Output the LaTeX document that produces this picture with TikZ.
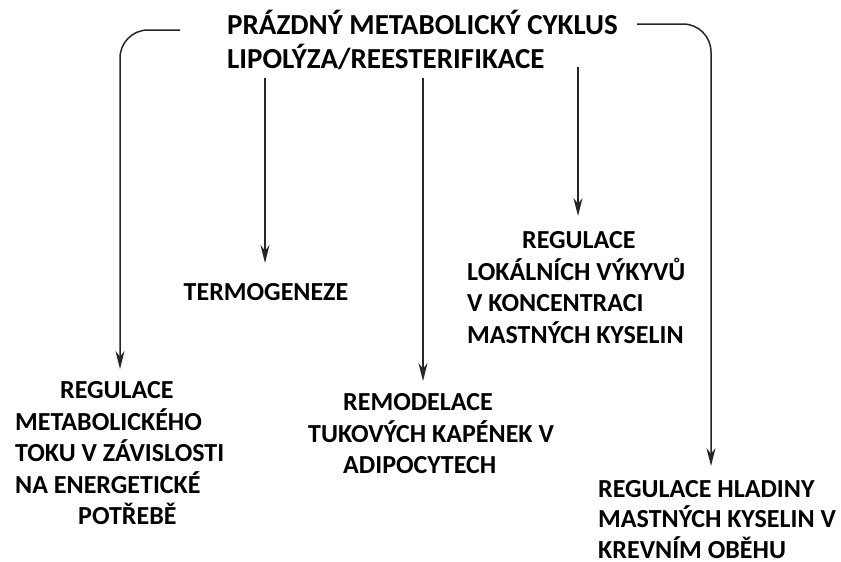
\documentclass[tikz,border=0pt]{standalone}
\usepackage{fontspec}
\setmainfont{Carlito}
\usetikzlibrary{arrows.meta}
\tikzset{
  lbl/.style={font=\bfseries\fontsize{26}{31.5}\selectfont, inner sep=0pt, text=black},
  ttl/.style={font=\bfseries\fontsize{29}{35}\selectfont, inner sep=0pt, text=black},
  conn/.style={draw=black!85, line width=1.5pt, -{Stealth[length=18pt,width=9pt]}},
}
\begin{document}
\begin{tikzpicture}[x=1pt,y=-1pt]
\useasboundingbox[fill=white] (0,0) rectangle (841,562);
% title
\node[ttl, anchor=west] (t1) at (227,22) {PRÁZDNÝ METABOLICKÝ CYKLUS};
\node[ttl, anchor=west] (t2) at (227,57) {LIPOLÝZA/REESTERIFIKACE};
% texts
\node[lbl] (termo) at (266,292) {TERMOGENEZE};
\node[lbl, align=left, anchor=north west] (lok) at (467,231.6) {\hspace*{55pt}REGULACE\\LOKÁLNÍCH VÝKYVŮ\\V KONCENTRACI\\MASTNÝCH KYSELIN};
\node[lbl, align=left, anchor=north west] (meta) at (15,381.6) {\hspace*{45pt}REGULACE\\METABOLICKÉHO\\TOKU V ZÁVISLOSTI\\NA ENERGETICKÉ\\\hspace*{63pt}POTŘEBĚ};
\node[lbl, align=left, anchor=north west] (remo) at (308,393.6) {\hspace*{35pt}REMODELACE\\TUKOVÝCH KAPÉNEK V\\\hspace*{35pt}ADIPOCYTECH};
\node[lbl, font=\bfseries\fontsize{26}{30.5}\selectfont, align=left, anchor=north west, text depth=0pt] (krev) at (598,480) {REGULACE HLADINY\\MASTNÝCH KYSELIN V\\KREVNÍM OBĚHU};
% connector ends
\coordinate (ls) at (180,30);
\coordinate (le) at (120,369);
\coordinate (rs) at (637,24);
\coordinate (re) at (711,466);
\coordinate (a1s) at (265,78);
\coordinate (a1e) at (265,263);
\coordinate (a2s) at (423,78);
\coordinate (a2e) at (423,381);
\coordinate (a3s) at (578,67);
\coordinate (a3e) at (578,216);
% connectors
\draw[conn, rounded corners=28pt] (ls) -| (le);
\draw[conn, rounded corners=28pt] (rs) -| (re);
\draw[conn] (a1s) -- (a1e);
\draw[conn] (a2s) -- (a2e);
\draw[conn] (a3s) -- (a3e);
\end{tikzpicture}
\end{document}
